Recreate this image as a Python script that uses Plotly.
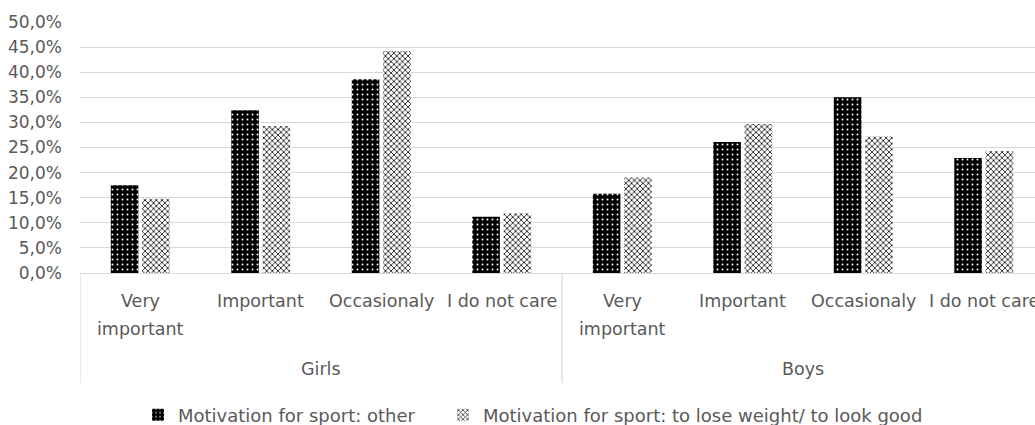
import plotly.graph_objects as go

# ---- data ----
groups = ["Girls", "Boys"]
categories = ["Very important", "Important", "Occasionaly", "I do not care"]
category_lines = [["Very", "important"], ["Important"], ["Occasionaly"], ["I do not care"]]
series_names = ["Motivation for sport: other",
                "Motivation for sport: to lose weight/ to look good"]
other_vals = [17.5, 32.4, 38.6, 11.2, 15.8, 26.1, 35.0, 22.9]
lose_weight_vals = [14.8, 29.3, 44.2, 11.9, 19.0, 29.7, 27.2, 24.3]
y_ticks = [0, 5, 10, 15, 20, 25, 30, 35, 40, 45, 50]
y_tick_text = [f"{v:.1f}%".replace(".", ",") for v in y_ticks]

FONT = "DejaVu Sans"
TXT = "#595959"
GRID = "#d9d9d9"

n_cat = len(categories)
xpos = list(range(len(groups) * n_cat))

fig = go.Figure()
fig.add_trace(go.Bar(
    x=xpos, y=other_vals, name=series_names[0], legend="legend", showlegend=True,
    marker=dict(color="black", line=dict(width=0),
                pattern=dict(shape=".", fgcolor="white", bgcolor="black",
                             size=5, solidity=0.12, fillmode="replace")),
))
fig.add_trace(go.Bar(
    x=xpos, y=lose_weight_vals, name=series_names[1], legend="legend2", showlegend=True,
    marker=dict(color="white", line=dict(width=0),
                pattern=dict(shape="x", fgcolor="#222222", bgcolor="white",
                             size=4, solidity=0.4, fillmode="replace")),
))

# plot geometry (px)
H = 425
top, bottom = 22, 152
plot_h = H - top - bottom
axis_y = top + plot_h  # pixel row of the x axis


def shift(py):
    return -(py - axis_y)

annotations = []
for g, grp in enumerate(groups):
    for c, lines in enumerate(category_lines):
        xi = g * n_cat + c
        for k, line in enumerate(lines):
            annotations.append(dict(
                x=xi, y=0, xref="x", yref="paper", text=line, showarrow=False,
                xanchor="center", yanchor="middle",
                yshift=shift(301 + 28 * k),
                font=dict(family=FONT, size=17.5, color=TXT)))
    annotations.append(dict(
        x=g * n_cat + (n_cat - 1) / 2, y=0, xref="x", yref="paper", text=grp,
        showarrow=False, xanchor="center", yanchor="middle", yshift=shift(369),
        font=dict(family=FONT, size=17.5, color=TXT)))

shapes = []
for g in range(len(groups) + 1):
    shapes.append(dict(type="line", xref="x", yref="paper",
                       x0=g * n_cat - 0.5, x1=g * n_cat - 0.5,
                       y0=0, y1=-(383 - axis_y) / plot_h,
                       line=dict(color=GRID, width=1.2)))

legend_common = dict(orientation="h", xref="container", yref="container",
                     y=1 - 415 / H, xanchor="left", yanchor="middle",
                     font=dict(family=FONT, size=18, color=TXT),
                     itemwidth=30, bgcolor="rgba(0,0,0,0)", visible=True)

fig.update_layout(
    width=1035, height=H,
    showlegend=True,
    margin=dict(l=80, r=0, t=top, b=bottom, pad=0),
    paper_bgcolor="white", plot_bgcolor="white",
    barmode="group", bargap=0.48, bargroupgap=0.12,
    font=dict(family=FONT, size=17, color=TXT),
    xaxis=dict(range=[-0.5, len(xpos) - 0.5 - 9 / 120.5], showticklabels=False,
               showgrid=False, zeroline=False, showline=True,
               linecolor=GRID, linewidth=1.2, ticks=""),
    yaxis=dict(range=[0, 50], tickmode="array", tickvals=y_ticks, ticktext=y_tick_text,
               showgrid=True, gridcolor=GRID, gridwidth=1.2, zeroline=False,
               showline=False, ticks="", ticklabelstandoff=17,
               tickfont=dict(family=FONT, size=17, color=TXT)),
    legend=dict(x=138 / 1035, **legend_common),
    legend2=dict(x=443 / 1035, **legend_common),
    annotations=annotations,
    shapes=shapes,
)

fig.write_html("out.html", config={"displayModeBar": False},
               post_script="document.body.style.margin='0';")
